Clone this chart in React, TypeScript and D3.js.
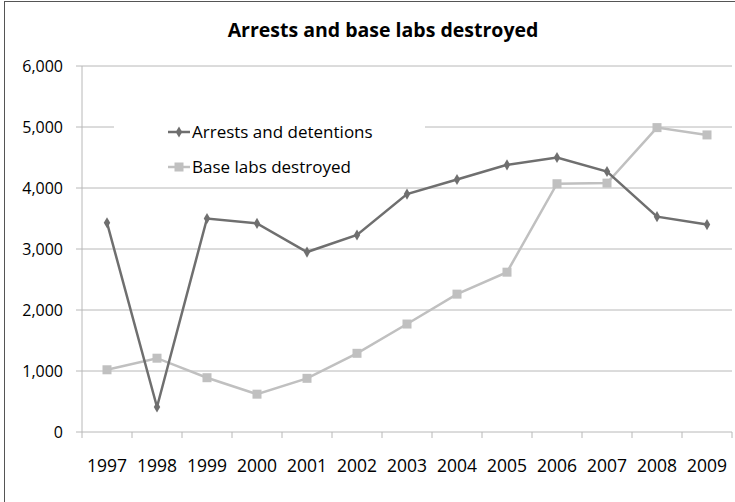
import React from "react";
import * as d3 from "d3";

const years = ["1997","1998","1999","2000","2001","2002","2003","2004","2005","2006","2007","2008","2009"];
const arrests = [3430, 410, 3500, 3420, 2950, 3230, 3900, 4140, 4380, 4500, 4270, 3530, 3400];
const labs = [1020, 1210, 890, 620, 880, 1290, 1770, 2260, 2620, 4070, 4080, 4990, 4870];
const yTicks = [0, 1000, 2000, 3000, 4000, 5000, 6000];
const seriesNames = ["Arrests and detentions", "Base labs destroyed"];

export default function App() {
  const W = 735, H = 502;
  const left = 82, right = 732, top = 66, bottom = 432;
  const x = d3.scaleBand<string>().domain(years).range([left, right]);
  const y = d3.scaleLinear().domain([0, 6000]).range([bottom, top]);
  const cx = (d: string) => (x(d) as number) + x.bandwidth() / 2;
  const line = d3.line<number>().x((_, i) => cx(years[i])).y((v) => y(v));
  const fmt = d3.format(",");
  const font = "'Open Sans', 'DejaVu Sans', sans-serif";
  const dark = "#6f6f6f", light = "#c0c0c0", grid = "#b8b8b8";
  const diamond = d3.symbol().type(d3.symbolDiamond).size(36)() as string;
  return (
    <svg width={W} height={H} style={{ position: "absolute", left: 0, top: 0 }} fontFamily={font}>
      <rect x={0} y={0} width={W} height={H} fill="white" />
      <rect x={4.5} y={1.5} width={W + 10} height={H + 10} fill="none" stroke="#555" strokeWidth={1} />
      <text x={383} y={37} textAnchor="middle" fontSize={19.5} fontWeight="bold" fill="#000">Arrests and base labs destroyed</text>
      {yTicks.map((t) => (
        <g key={t}>
          {t > 0 && <line x1={left} x2={right} y1={y(t)} y2={y(t)} stroke={grid} strokeWidth={1} />}
          <line x1={left - 6} x2={left} y1={y(t)} y2={y(t)} stroke={grid} />
          <text x={63} y={y(t) + 6} textAnchor="end" fontSize={16} fill="#000">{fmt(t)}</text>
        </g>
      ))}
      <line x1={left} x2={left} y1={top} y2={bottom} stroke={grid} />
      <line x1={left} x2={right} y1={bottom} y2={bottom} stroke={grid} />
      {[...years.map((d) => x(d) as number), right].map((v, i) => (
        <line key={i} x1={v} x2={v} y1={bottom} y2={bottom + 6} stroke={grid} />
      ))}
      {years.map((d) => (
        <text key={d} x={cx(d)} y={472} textAnchor="middle" fontSize={17.5} fill="#000">{d}</text>
      ))}
      <rect x={114} y={112} width={311} height={70} fill="white" />
      <path d={line(labs) as string} fill="none" stroke={light} strokeWidth={2.5} />
      {labs.map((v, i) => (
        <rect key={i} x={cx(years[i]) - 4.5} y={y(v) - 4.5} width={9} height={9} fill={light} />
      ))}
      <path d={line(arrests) as string} fill="none" stroke={dark} strokeWidth={2.5} />
      {arrests.map((v, i) => (
        <path key={i} d={diamond} transform={`translate(${cx(years[i])},${y(v)})`} fill={dark} />
      ))}
      <g>
        <line x1={168} x2={190} y1={132} y2={132} stroke={dark} strokeWidth={2.5} />
        <path d={diamond} transform="translate(179,132)" fill={dark} />
        <text x={192} y={138} fontSize={17} fill="#000">{seriesNames[0]}</text>
        <line x1={168} x2={190} y1={167} y2={167} stroke={light} strokeWidth={2.5} />
        <rect x={174.5} y={162.5} width={9} height={9} fill={light} />
        <text x={192} y={173} fontSize={17} fill="#000">{seriesNames[1]}</text>
      </g>
    </svg>
  );
}
